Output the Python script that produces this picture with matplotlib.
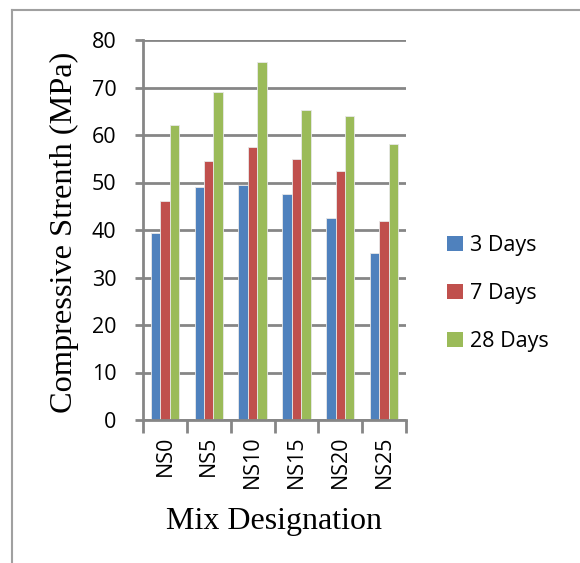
import matplotlib
matplotlib.use("Agg")
import matplotlib.pyplot as plt
import numpy as np
from matplotlib.lines import Line2D
from matplotlib.patches import Patch

mixes = ["NS0", "NS5", "NS10", "NS15", "NS20", "NS25"]
days_3 = [39.4, 49.0, 49.5, 47.5, 42.5, 35.2]
days_7 = [46.1, 54.6, 57.4, 55.0, 52.4, 41.8]
days_28 = [62.2, 69.1, 75.3, 65.3, 64.0, 58.2]
series_labels = ["3 Days", "7 Days", "28 Days"]
colors = ["#4F81BD", "#C0504D", "#9BBB59"]
y_ticks = [0, 10, 20, 30, 40, 50, 60, 70, 80]

sans = ["Open Sans", "DejaVu Sans"]
serif = ["Liberation Serif", "DejaVu Serif"]
grid_grey = "#868686"

fig = plt.figure(figsize=(5.8, 5.63), dpi=100)
ax = fig.add_axes([143 / 580, 1 - 420 / 563, (406 - 143) / 580, (420 - 40) / 563])

x = np.arange(len(mixes))
w = 0.216
for i, (vals, lab, col) in enumerate(zip([days_3, days_7, days_28], series_labels, colors)):
    ax.bar(x + (i - 1) * w, vals, width=w, color=col, label=lab,
           edgecolor="#e8e8e8", linewidth=0.6, zorder=3)

ax.set_xlim(-0.5, len(mixes) - 0.5)
ax.set_ylim(0, 80)
ax.set_yticks(y_ticks)
ax.set_yticklabels([str(t) for t in y_ticks], fontsize=15.5, family=sans)
ax.set_xticks(x)
ax.set_xticklabels(mixes, rotation=90, fontsize=15.5, family=sans)
ax.set_xticks(np.arange(-0.5, len(mixes)), minor=True)
ax.tick_params(axis="x", which="major", length=0, pad=11)
ax.tick_params(axis="x", which="minor", length=9, width=2, color=grid_grey)
ax.tick_params(axis="y", length=6, width=2, color=grid_grey, pad=13)

ax.grid(axis="y", color=grid_grey, linewidth=2, zorder=0)
ax.set_axisbelow(True)
for side in ["top", "right"]:
    ax.spines[side].set_visible(False)
for side in ["left", "bottom"]:
    ax.spines[side].set_color(grid_grey)
    ax.spines[side].set_linewidth(2)
    ax.spines[side].set_zorder(4)

ax.set_ylabel("Compressive Strenth (MPa)", fontsize=23.3, family=serif, labelpad=6)
ax.yaxis.set_label_coords(-0.245, 0.495)
ax.set_xlabel("Mix Designation", fontsize=23, family=serif, labelpad=14)

handles = [Patch(facecolor=c, edgecolor="none") for c in colors]
fig.legend(handles, series_labels, loc="upper left",
           bbox_to_anchor=(447 / 580, 1 - 235 / 563), frameon=False,
           borderpad=0, borderaxespad=0,
           prop={"family": sans, "size": 15.5}, handlelength=0.72, handleheight=0.72,
           handletextpad=0.36, labelspacing=1.25)

# outer chart frame
fig.add_artist(Line2D([12 / 580, 12 / 580], [0, 1 - 10 / 563], transform=fig.transFigure,
                      color="#a0a0a0", linewidth=1.5))
fig.add_artist(Line2D([12 / 580, 1], [1 - 10 / 563, 1 - 10 / 563], transform=fig.transFigure,
                      color="#a0a0a0", linewidth=1.5))

fig.savefig("out.png", dpi=100)
